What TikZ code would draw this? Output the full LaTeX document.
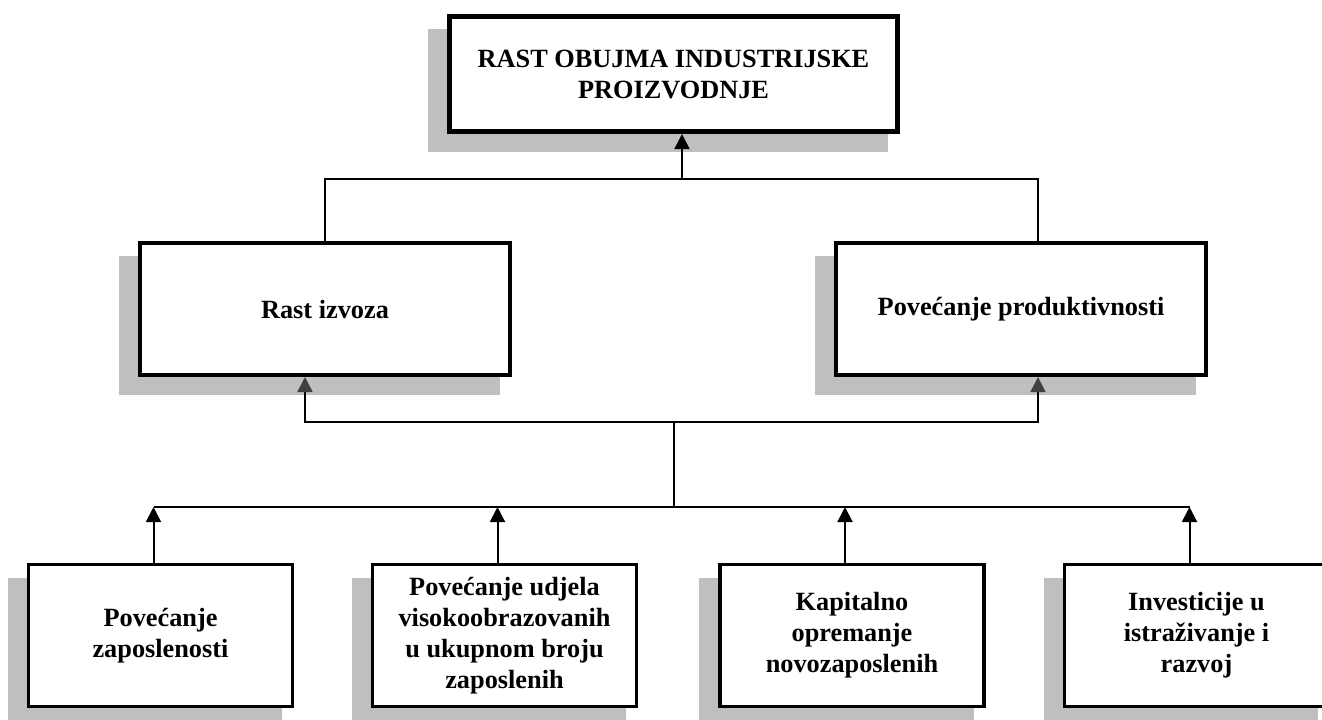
\documentclass[tikz,border=0pt]{standalone}
\usepackage{fontspec}
\setmainfont{Liberation Serif}
\usetikzlibrary{arrows.meta,calc,backgrounds}

\begin{document}
\begin{tikzpicture}[x=0.5pt, y=-0.5pt, >={Triangle[width=7.5pt,length=7.5pt]},
  box/.style={draw, fill=white, align=center, inner sep=2pt,
    font=\bfseries\fontsize{13.15}{15.5}\selectfont},
  main box/.style={box, line width=2.5pt, minimum width=224pt, minimum height=57.5pt},
  mid box/.style={box, line width=2pt, minimum width=185pt, minimum height=66pt},
  low box/.style={box, line width=1.6pt, minimum width=132pt, minimum height=71pt},
  link/.style={line width=0.8pt},
  grey tip/.style={-{Triangle[width=7.5pt,length=7.5pt,color=black!75]}},
  shade/.style={fill=black!25}]

\useasboundingbox (0,0) rectangle (1322,719);

\node [main box] (rast) at (673.5,74) {RAST OBUJMA INDUSTRIJSKE\\PROIZVODNJE};
\node [mid box] (izvoz) at (325,309) {Rast izvoza};
\node [mid box] (produkt) at (1021,309) {Povećanje produktivnosti};

\foreach \t/\x [count=\i] in {{Povećanje\\zaposlenosti}/160.5,
    {Povećanje udjela\\visokoobrazovanih\\u ukupnom broju\\zaposlenih}/504.5,
    {Kapitalno\\opremanje\\novozaposlenih}/852,
    {Investicije u\\istraživanje i\\razvoj}/1196.5}
  \node [low box] (faktor-\i) at (\x,635.5) {\t};

% sjene iza okvira
\begin{scope}[on background layer]
\foreach \n in {rast,izvoz,produkt,faktor-1,faktor-2,faktor-3,faktor-4}
  \fill [shade] ($(\n.north west)+(-19,15)$) rectangle ($(\n.south east)+(-12,18)$);
\end{scope}

\coordinate (top-bus) at (682,179);
\coordinate (mid-bus) at (674,422);
\coordinate (low-bus) at (674,507);

\draw [link] (izvoz.north) |- (top-bus) -| ([xshift=8.5pt]produkt.north);
\draw [link,->] (top-bus) -- (top-bus |- rast.south);

\draw [link,grey tip] (mid-bus) -| ([xshift=-10pt]izvoz.south);
\draw [link,grey tip] (mid-bus) -| ([xshift=8.5pt]produkt.south);
\draw [link] (mid-bus) -- (low-bus);

\draw [link] ([xshift=-3.5pt]faktor-1.north |- low-bus) -- ([xshift=-3.5pt]faktor-4.north |- low-bus);
\foreach \i in {1,...,4}
  \draw [link,line width=1pt,->] ([xshift=-3.5pt]faktor-\i.north) -- ([xshift=-3.5pt]faktor-\i.north |- low-bus);

\end{tikzpicture}
\end{document}
